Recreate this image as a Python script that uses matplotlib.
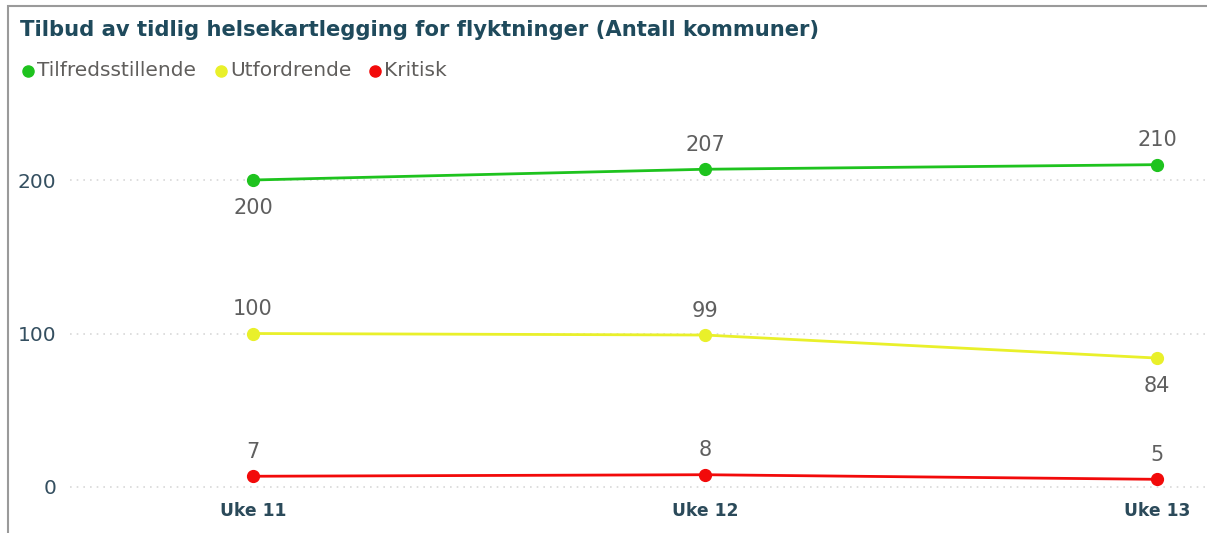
import matplotlib
matplotlib.use("Agg")
import matplotlib.pyplot as plt
from matplotlib.lines import Line2D
from matplotlib.patches import Rectangle

categories = ["Uke 11", "Uke 12", "Uke 13"]
series_names = ["Tilfredsstillende", "Utfordrende", "Kritisk"]
tilfreds = [200, 207, 210]
utford = [100, 99, 84]
kritisk = [7, 8, 5]
yticks = [0, 100, 200]

colors = ["#1ec31e", "#e9f02a", "#f20a0a"]
# label placement: +1 above, -1 below
placements = [[-1, 1, 1], [1, 1, -1], [1, 1, 1]]

W, H = 1207, 533
plt.rcParams['font.family'] = ['DejaVu Sans']
fig = plt.figure(figsize=(W / 100, H / 100), dpi=100)

def fx(px):
    return px / W

def fy(py):
    return 1 - py / H

# frame
fig.add_artist(Rectangle((fx(8), fy(540)), fx(1210 - 8), (540 - 6) / H, transform=fig.transFigure,
                         fill=False, edgecolor="#9a9a9a", linewidth=1.5))

# axes: x from 70 to 1207 px, y from 110 to 495 px
ax_left, ax_right = 70, 1207
ax_top, ax_bot = 110, 495
ax = fig.add_axes([fx(ax_left), fy(ax_bot), (ax_right - ax_left) / W, (ax_bot - ax_top) / H])
x0, step = 253, 452
ax.set_xlim((ax_left - x0) / step, (ax_right - x0) / step)
yscale = 1.535
ax.set_ylim(-(ax_bot - 487) / yscale, (487 - ax_top) / yscale)

for s in ax.spines.values():
    s.set_visible(False)
ax.set_yticks(yticks)
ax.set_yticklabels([str(v) for v in yticks])
ax.set_xticks(range(len(categories)))
ax.set_xticklabels(categories, fontweight="bold", fontsize=12.3)
ax.tick_params(axis="both", length=0)
ax.tick_params(axis="y", pad=10, labelcolor="#344f60", labelsize=14.5)
ax.tick_params(axis="x", pad=5, labelcolor="#2b4a5a")
ax.grid(axis="y", color="#d8d8d8", linestyle=(0, (1, 3)), linewidth=1.2)
ax.set_axisbelow(True)

data = [tilfreds, utford, kritisk]
xs = list(range(len(categories)))
for vals, col, pl in zip(data, colors, placements):
    ax.plot(xs, vals, color=col, linewidth=2, marker="o", markersize=8.5, clip_on=False, zorder=3)
    for x, v, p in zip(xs, vals, pl):
        off = 17.5 if p > 0 else -20
        ax.annotate(str(v), (x, v), xytext=(0, off), textcoords="offset points",
                    ha="center", va="center", fontsize=15, color="#5f5f5f")

# title
fig.text(fx(20), fy(30), "Tilbud av tidlig helsekartlegging for flyktninger (Antall kommuner)",
         fontsize=15.2, fontweight="bold", color="#1f4a5c", ha="left", va="center")

# legend
lx = [28, 221, 375]
for name, col, x in zip(series_names, colors, lx):
    fig.add_artist(Line2D([fx(x)], [fy(71)], marker="o", markersize=8, color=col,
                          transform=fig.transFigure, linestyle="none"))
    fig.text(fx(x + 9), fy(71), name, fontsize=14.5, color="#605e5c", ha="left", va="center")

fig.savefig("out.png", dpi=100)
